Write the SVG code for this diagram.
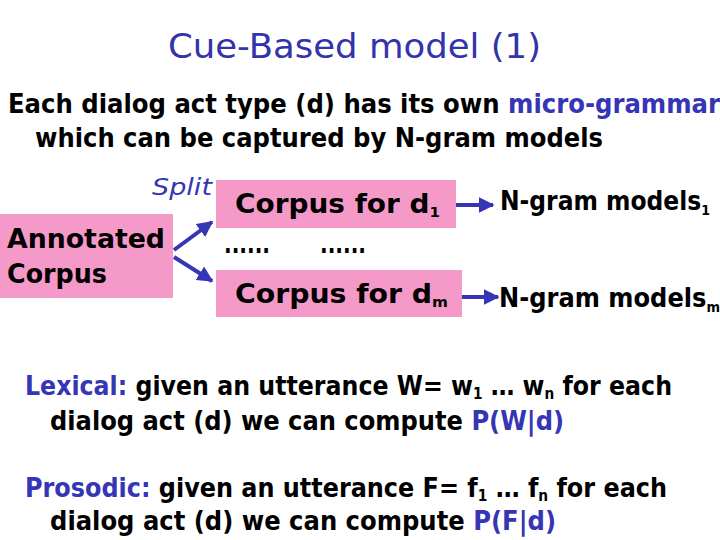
<svg xmlns="http://www.w3.org/2000/svg" width="720" height="540" viewBox="0 0 720 540">
<defs>
<style>
text{font-family:"DejaVu Sans","Liberation Sans",sans-serif;fill:#000}
.t{font-size:34px;fill:#3333aa}
.b{font-size:26px;font-weight:bold}
.blue{fill:#3535b5}
.box{fill:#f599c8}
.con{stroke:#3535b5;stroke-width:4;fill:none}
</style>
<marker id="ah" viewBox="0 0 10 10" refX="9" refY="5" markerWidth="4" markerHeight="4" orient="auto">
<path d="M0,0L10,5L0,10z" fill="#3535b5"/>
</marker>
</defs>
<rect width="720" height="540" fill="#fff"/>
<text class="t" x="168" y="58" textLength="373" lengthAdjust="spacingAndGlyphs">Cue-Based model (1)</text>
<text class="b" x="8" y="113" textLength="712" lengthAdjust="spacingAndGlyphs">Each dialog act type (d) has its own <tspan class="blue">micro-grammar</tspan></text>
<text class="b" x="35" y="147" textLength="568" lengthAdjust="spacingAndGlyphs">which can be captured by N-gram models</text>
<text x="152" y="195" style="font-size:23px;font-style:italic" class="blue" textLength="60" lengthAdjust="spacingAndGlyphs">Split</text>
<g id="annotated">
<rect class="box" x="0" y="214" width="173" height="84"/>
<text class="b" x="7" y="248" textLength="158" lengthAdjust="spacingAndGlyphs">Annotated</text>
<text class="b" x="7" y="283" textLength="100" lengthAdjust="spacingAndGlyphs">Corpus</text>
</g>
<g id="corpus1">
<rect class="box" x="216" y="180" width="240" height="48"/>
<text class="b" x="235" y="213" textLength="205" lengthAdjust="spacingAndGlyphs">Corpus for d<tspan style="font-size:14px" dy="4">1</tspan></text>
</g>
<g id="dots">
<text class="b" x="224" y="253" textLength="46" lengthAdjust="spacingAndGlyphs">......</text>
<text class="b" x="320" y="253" textLength="46" lengthAdjust="spacingAndGlyphs">......</text>
</g>
<g id="corpusm">
<rect class="box" x="216" y="270" width="246" height="47"/>
<text class="b" x="235" y="303" textLength="213" lengthAdjust="spacingAndGlyphs">Corpus for d<tspan style="font-size:14px" dy="4">m</tspan></text>
</g>
<g id="ngram1">
<text class="b" x="500" y="210" textLength="210" lengthAdjust="spacingAndGlyphs">N-gram models<tspan style="font-size:14px" dy="5">1</tspan></text>
</g>
<g id="ngramm">
<text class="b" x="499" y="307" textLength="221" lengthAdjust="spacingAndGlyphs">N-gram models<tspan style="font-size:14px" dy="5">m</tspan></text>
</g>
<g id="connectors">
<line class="con" x1="174" y1="250" x2="212" y2="222" marker-end="url(#ah)"/>
<line class="con" x1="174" y1="257" x2="212" y2="281" marker-end="url(#ah)"/>
<line class="con" x1="456" y1="205" x2="493" y2="205" marker-end="url(#ah)"/>
<line class="con" x1="462" y1="297" x2="498" y2="297" marker-end="url(#ah)"/>
</g>
<g id="lexical">
<text class="b" x="25" y="395" textLength="647" lengthAdjust="spacingAndGlyphs"><tspan class="blue">Lexical:</tspan> given an utterance W= w<tspan style="font-size:15px" dy="4">1</tspan><tspan dy="-4"> … w</tspan><tspan style="font-size:15px" dy="4">n</tspan><tspan dy="-4"> for each</tspan></text>
<text class="b" x="50" y="430" textLength="514" lengthAdjust="spacingAndGlyphs">dialog act (d) we can compute <tspan class="blue">P(W|d)</tspan></text>
</g>
<g id="prosodic">
<text class="b" x="25" y="497" textLength="642" lengthAdjust="spacingAndGlyphs"><tspan class="blue">Prosodic:</tspan> given an utterance F= f<tspan style="font-size:15px" dy="4">1</tspan><tspan dy="-4"> … f</tspan><tspan style="font-size:15px" dy="4">n</tspan><tspan dy="-4"> for each</tspan></text>
<text class="b" x="50" y="530" textLength="506" lengthAdjust="spacingAndGlyphs">dialog act (d) we can compute <tspan class="blue">P(F|d)</tspan></text>
</g>
</svg>
